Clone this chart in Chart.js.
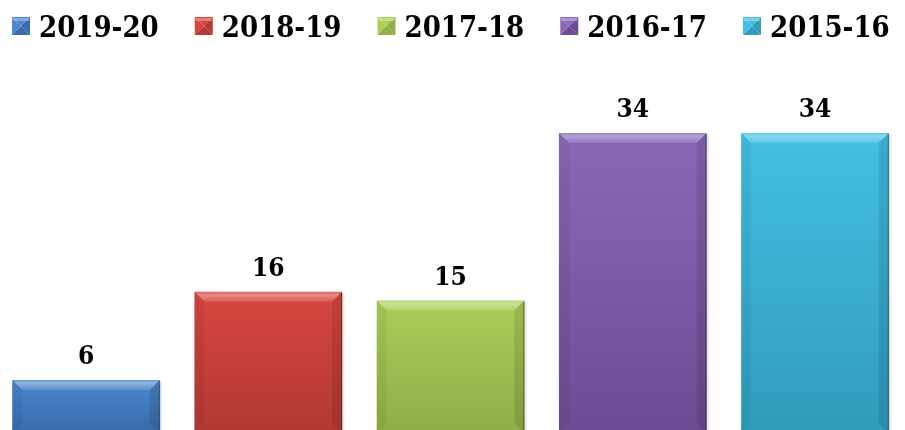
<!DOCTYPE html>
<html>
<head>
<meta charset="utf-8">
<script src="https://cdn.jsdelivr.net/npm/chart.js@4.4.1/dist/chart.umd.min.js"></script>
<style>
  html, body { margin: 0; padding: 0; background: #fff; }
  #wrap { width: 905px; height: 430px; }
</style>
</head>
<body>
<div id="wrap"><canvas id="myChart" width="905" height="430"></canvas></div>
<script>
// chart data
var categories = ['2019-20', '2018-19', '2017-18', '2016-17', '2015-16'];
var values = [6, 16, 15, 34, 34];
// top / bottom colour of each bar
var topColors = ['#4a86cf', '#d8463f', '#aace58', '#8a68b9', '#42c0e2'];
var bottomColors = ['#3a6cac', '#b23934', '#90ae47', '#6c4d93', '#319cbc'];

var fontFamily = "'DejaVu Serif Condensed', 'DejaVu Serif', serif";

var datasets = categories.map(function(cat, i) {
    return {
        label: cat,
        data: [{ x: i, y: values[i] }],
        backgroundColor: function(context) {
            var chart = context.chart;
            if (!chart.chartArea || !context.raw) return topColors[i];
            var yTop = chart.scales.y.getPixelForValue(context.raw.y);
            var g = chart.ctx.createLinearGradient(0, yTop, 0, chart.chartArea.bottom);
            g.addColorStop(0, topColors[i]);
            g.addColorStop(1, bottomColors[i]);
            return g;
        },
        borderWidth: 0
    };
});

// bevel edges and value labels on top of the bars
var bevelPlugin = {
    id: 'bevel',
    afterDatasetsDraw: function(chart) {
        var ctx = chart.ctx;
        var b = 10;
        ctx.save();
        chart.data.datasets.forEach(function(ds, i) {
            var meta = chart.getDatasetMeta(i);
            meta.data.forEach(function(bar, j) {
                var l = bar.x - bar.width / 2, r = bar.x + bar.width / 2;
                var t = bar.y, bot = bar.base;
                // top strip
                var g = ctx.createLinearGradient(0, t, 0, t + b);
                g.addColorStop(0, 'rgba(255,255,255,0.15)');
                g.addColorStop(0.3, 'rgba(255,255,255,0.38)');
                g.addColorStop(1, 'rgba(255,255,255,0.12)');
                ctx.beginPath();
                ctx.moveTo(l, t); ctx.lineTo(r, t); ctx.lineTo(r - b, t + b); ctx.lineTo(l + b, t + b);
                ctx.closePath();
                ctx.fillStyle = g; ctx.fill();
                // left strip
                ctx.beginPath();
                ctx.moveTo(l, t); ctx.lineTo(l + b, t + b); ctx.lineTo(l + b, bot - b); ctx.lineTo(l, bot);
                ctx.closePath();
                ctx.fillStyle = 'rgba(0,0,0,0.05)'; ctx.fill();
                // right strip
                ctx.beginPath();
                ctx.moveTo(r, t); ctx.lineTo(r - b, t + b); ctx.lineTo(r - b, bot - b); ctx.lineTo(r, bot);
                ctx.closePath();
                ctx.fillStyle = 'rgba(0,0,0,0.1)'; ctx.fill();
                // dark right edge + soft shadow
                ctx.fillStyle = 'rgba(0,0,0,0.35)';
                ctx.fillRect(r - 1, t + 1, 1.5, bot - t);
                ctx.fillStyle = 'rgba(0,0,0,0.08)';
                ctx.fillRect(r + 0.5, t + 3, 2, bot - t);
                // value label
                ctx.fillStyle = '#000';
                ctx.font = 'bold 26px ' + fontFamily;
                ctx.textAlign = 'center';
                ctx.textBaseline = 'alphabetic';
                ctx.fillText(String(ds.data[j].y), bar.x, t - 16);
            });
        });
        ctx.restore();
    }
};

// legend row: bevelled squares + bold labels
function drawSwatch(ctx, x, y, s, light, dark) {
    var m = s / 2;
    function tri(ax, ay, bx, by, col) {
        ctx.beginPath();
        ctx.moveTo(x + ax, y + ay); ctx.lineTo(x + bx, y + by); ctx.lineTo(x + m, y + m);
        ctx.closePath();
        ctx.fillStyle = col; ctx.fill();
    }
    tri(0, 0, s, 0, light);
    tri(0, 0, 0, s, light);
    tri(s, 0, s, s, dark);
    tri(0, s, s, s, dark);
    ctx.fillStyle = 'rgba(255,255,255,0.3)';
    ctx.fillRect(x + 1, y + 1, s - 2, 3);
}

var legendPlugin = {
    id: 'bevelLegend',
    afterDraw: function(chart) {
        var ctx = chart.ctx;
        ctx.save();
        ctx.font = 'bold 29px ' + fontFamily;
        ctx.textBaseline = 'alphabetic';
        ctx.textAlign = 'left';
        var box = 18, gap = 9, spacing = 36;
        var x = 12;
        chart.data.datasets.forEach(function(ds, i) {
            drawSwatch(ctx, x, 17, box, topColors[i], bottomColors[i]);
            ctx.fillStyle = '#000';
            ctx.fillText(ds.label, x + box + gap, 37);
            x += box + gap + ctx.measureText(ds.label).width + spacing;
        });
        ctx.restore();
    }
};

var chart = new Chart(document.getElementById('myChart').getContext('2d'), {
    type: 'bar',
    data: { datasets: datasets },
    options: {
        responsive: false,
        animation: false,
        devicePixelRatio: 1,
        layout: { padding: { left: 0, right: 0, top: 115, bottom: 0 } },
        datasets: {
            bar: { grouped: false, categoryPercentage: 1, barPercentage: 0.81 }
        },
        scales: {
            x: {
                type: 'linear', display: false, offset: false, min: -0.472, max: 4.494,
                ticks: { stepSize: 1, includeBounds: false }
            },
            y: { display: false, min: 0.33, max: 36.04 }
        },
        plugins: {
            legend: { display: false },
            tooltip: { enabled: false }
        }
    },
    plugins: [bevelPlugin, legendPlugin]
});
</script>
</body>
</html>
